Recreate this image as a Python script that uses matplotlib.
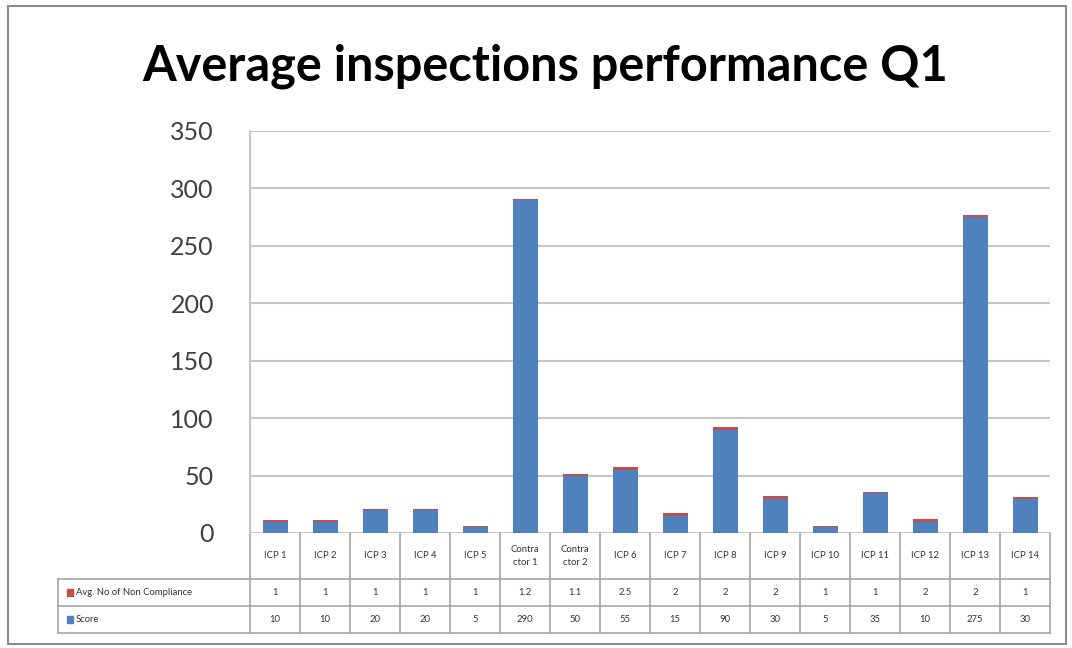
import matplotlib.pyplot as plt
from matplotlib.patches import Rectangle
from matplotlib.transforms import blended_transform_factory

categories = ['ICP 1', 'ICP 2', 'ICP 3', 'ICP 4', 'ICP 5', 'Contra\nctor 1', 'Contra\nctor 2',
              'ICP 6', 'ICP 7', 'ICP 8', 'ICP 9', 'ICP 10', 'ICP 11', 'ICP 12', 'ICP 13', 'ICP 14']
score = [10, 10, 20, 20, 5, 290, 50, 55, 15, 90, 30, 5, 35, 10, 275, 30]
non_compliance = [1, 1, 1, 1, 1, 1.2, 1.1, 2.5, 2, 2, 2, 1, 1, 2, 2, 1]
yticks = [0, 50, 100, 150, 200, 250, 300, 350]

BLUE = '#4F81BD'
RED = '#C0504D'
GRID = '#C6C6C6'

plt.rcParams['font.family'] = ['Lato', 'DejaVu Sans']

fig = plt.figure(figsize=(10.72, 6.48), dpi=100)
fig.patches.append(Rectangle((8 / 1072, 4 / 648), 1058 / 1072, 638 / 648,
                             transform=fig.transFigure, fill=False,
                             edgecolor='#8C8C8C', linewidth=1.5))

ax = fig.add_axes([250 / 1072, (648 - 533) / 648, 800 / 1072, (533 - 131) / 648])

x = list(range(len(categories)))
ax.bar(x, score, width=0.5, color=BLUE, zorder=3)
ax.bar(x, non_compliance, width=0.5, bottom=score, color=RED, zorder=3)

ax.set_xlim(-0.5, len(categories) - 0.5)
ax.set_ylim(0, 350)
ax.set_yticks(yticks)
ax.set_xticks([])
ax.tick_params(axis='y', length=0, pad=26, labelsize=18, labelcolor='#404040')
ax.yaxis.grid(True, color=GRID, linewidth=1.5, zorder=0)
for s in ['top', 'right', 'bottom']:
    ax.spines[s].set_visible(False)
ax.spines['left'].set_color(GRID)
ax.spines['left'].set_linewidth(1.5)

fig.text(545 / 1072, 1 - 66 / 648, 'Average inspections performance Q1',
         ha='center', va='center', fontsize=35, fontweight='bold', color='black')

# data table under the bars
tr = blended_transform_factory(ax.transData, ax.transAxes)
h1, h2, h3 = -0.1144, -0.1816, -0.2488
xl = -0.24
line_kw = dict(color='#A6A6A6', linewidth=1.2, clip_on=False)
for i in range(len(categories) + 1):
    ax.plot([i - 0.5, i - 0.5], [0, h3], transform=tr, **line_kw)
for y in [h1, h2, h3]:
    ax.plot([xl, 1], [y, y], transform=ax.transAxes, **line_kw)
ax.plot([xl, xl], [h1, h3], transform=ax.transAxes, **line_kw)

for i, c in enumerate(categories):
    ax.text(i, h1 / 2, c, transform=tr, ha='center', va='center', fontsize=6.8,
            color='#333333', linespacing=1.6)
    ax.text(i, (h1 + h2) / 2, f'{non_compliance[i]:g}', transform=tr,
            ha='center', va='center', fontsize=6.8, color='#333333')
    ax.text(i, (h2 + h3) / 2, f'{score[i]:g}', transform=tr,
            ha='center', va='center', fontsize=6.8, color='#333333')

rows = [('Avg. No of Non Compliance', RED, (h1 + h2) / 2), ('Score', BLUE, (h2 + h3) / 2)]
for label, col, yc in rows:
    ax.add_patch(Rectangle((xl + 0.011, yc - 0.008), 0.008, 0.016, transform=ax.transAxes,
                           color=col, clip_on=False))
    ax.text(xl + 0.022, yc, label, transform=ax.transAxes, ha='left', va='center',
            fontsize=6.8, color='#333333')

fig.savefig('out.png', dpi=100)
